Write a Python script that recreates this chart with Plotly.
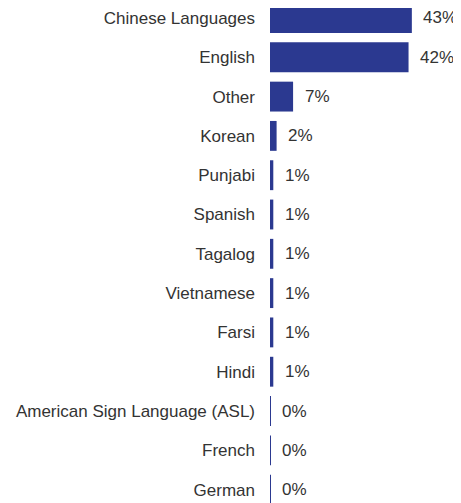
import plotly.graph_objects as go

languages = ["Chinese Languages", "English", "Other", "Korean", "Punjabi", "Spanish",
             "Tagalog", "Vietnamese", "Farsi", "Hindi", "American Sign Language (ASL)",
             "French", "German"]
shares = [43, 42, 7, 2, 1, 1, 1, 1, 1, 1, 0.3, 0.3, 0.3]
labels = ["43%", "42%", "7%", "2%", "1%", "1%", "1%", "1%", "1%", "1%", "0%", "0%", "0%"]

FONT = "Liberation Sans, Arial, sans-serif"

fig = go.Figure(go.Bar(
    x=shares, y=languages, orientation="h",
    marker=dict(color="#2B3990", line=dict(width=0)),
    width=0.76,
    hoverinfo="skip",
))

for lang, v, t in zip(languages, shares, labels):
    fig.add_annotation(x=v, y=lang, text=t, showarrow=False, xanchor="left",
                       xshift=9.5, font=dict(family=FONT, size=17, color="#333333"))

fig.update_layout(
    width=453, height=495,
    margin=dict(l=262, r=0, t=0, b=0),
    paper_bgcolor="white", plot_bgcolor="white",
    showlegend=False,
    xaxis=dict(range=[0, 57.9], visible=False, fixedrange=True),
    yaxis=dict(range=[12.34, -0.254], showgrid=False, zeroline=False, showline=False,
               ticks="", ticklabelstandoff=14,
               tickfont=dict(family=FONT, size=17, color="#333333")),
)

fig.write_html("out.html")
